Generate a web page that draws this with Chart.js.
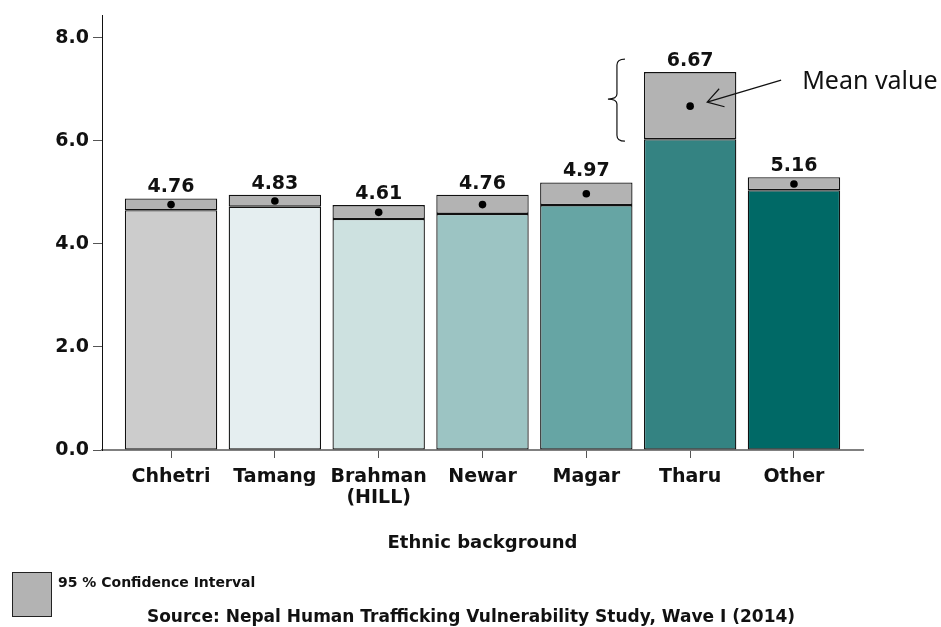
<!DOCTYPE html>
<html lang="en">
<head>
<meta charset="UTF-8">
<title>Ethnic background</title>
<script src="https://cdn.jsdelivr.net/npm/chart.js"></script>
<style>
  body { margin: 0; background: #ffffff; }
  .wrap { width: 941px; height: 627px; position: relative; }
</style>
</head>
<body>
<div class="wrap"><canvas id="chart"></canvas></div>
<script>
const categories = ['Chhetri', 'Tamang', ['Brahman', '(HILL)'], 'Newar', 'Magar', 'Tharu', 'Other'];
const means  = [4.76, 4.83, 4.61, 4.76, 4.97, 6.67, 5.16];
const ciLow  = [4.65, 4.72, 4.48, 4.58, 4.75, 6.03, 5.04];
const ciHigh = [4.88, 4.95, 4.75, 4.95, 5.19, 7.33, 5.29];
const barColors = ['#cccccc', '#e5eef0', '#cde1e0', '#9cc4c3', '#66a5a4', '#348382', '#006966'];
const yTicks = [0, 2, 4, 6, 8];
const ciColor = '#b3b3b3';

Chart.defaults.font.family = '"DejaVu Sans", sans-serif';
Chart.defaults.color = '#111';

// value labels, brace, "Mean value" arrow, legend and source line
const extras = {
    id: 'extras',
    afterDatasetsDraw(chart) {
        const ctx = chart.ctx;
        const ciBars = chart.getDatasetMeta(1).data;
        const dots = chart.getDatasetMeta(2).data;
        ctx.save();
        ctx.fillStyle = '#111';
        ctx.font = 'bold 19px "DejaVu Sans"';
        ctx.textAlign = 'center';
        ctx.textBaseline = 'alphabetic';
        ciBars.forEach((bar, i) => ctx.fillText(means[i].toFixed(2), bar.x, bar.y - 6));

        const t = categories.indexOf('Tharu');
        const bar = ciBars[t], dot = dots[t];
        const left = bar.x - bar.width / 2;
        const top = bar.y - 13, bottom = bar.base + 2, mid = (top + bottom) / 2 - 1;
        const r = left - 19, m = left - 27, tip = left - 36;
        ctx.strokeStyle = '#111';
        ctx.lineWidth = 1.2;
        ctx.beginPath();
        ctx.moveTo(r, top);
        ctx.quadraticCurveTo(m, top, m, top + 6);
        ctx.lineTo(m, mid - 5);
        ctx.quadraticCurveTo(m, mid, tip, mid);
        ctx.quadraticCurveTo(m, mid, m, mid + 5);
        ctx.lineTo(m, bottom - 6);
        ctx.quadraticCurveTo(m, bottom, r, bottom);
        ctx.stroke();

        const ax = dot.x + 17, ay = dot.y - 4;
        const bx = dot.x + 91, by = dot.y - 26;
        const ang = Math.atan2(by - ay, bx - ax);
        ctx.beginPath();
        ctx.moveTo(bx, by);
        ctx.lineTo(ax, ay);
        ctx.moveTo(ax + 18 * Math.cos(ang - 0.55), ay + 18 * Math.sin(ang - 0.55));
        ctx.lineTo(ax, ay);
        ctx.lineTo(ax + 18 * Math.cos(ang + 0.55), ay + 18 * Math.sin(ang + 0.55));
        ctx.stroke();

        ctx.font = '25px "Noto Sans"';
        ctx.textAlign = 'left';
        ctx.fillText('Mean value', dot.x + 112, dot.y - 17);
        ctx.restore();
    },
    afterDraw(chart) {
        const ctx = chart.ctx;
        const xb = chart.scales.x.bottom;
        ctx.save();
        ctx.fillStyle = ciColor;
        ctx.strokeStyle = '#222';
        ctx.lineWidth = 1;
        ctx.fillRect(12, xb + 12, 39, 44);
        ctx.strokeRect(12.5, xb + 12.5, 39, 44);
        ctx.fillStyle = '#111';
        ctx.font = 'bold 14px "DejaVu Sans"';
        ctx.textAlign = 'left';
        ctx.fillText('95 % Confidence Interval', 58, xb + 27);
        ctx.font = 'bold 17px "DejaVu Sans"';
        ctx.textAlign = 'center';
        ctx.fillText('Source: Nepal Human Trafficking Vulnerability Study, Wave I (2014)', 471, xb + 62);
        ctx.restore();
    }
};

new Chart(document.getElementById('chart'), {
    type: 'bar',
    data: {
        datasets: [
            {
                label: 'Lower bound',
                data: ciLow.map((v, i) => ({ x: i, y: [0, v] })),
                backgroundColor: barColors,
                borderColor: '#111',
                borderWidth: 1.3,
                borderSkipped: false,
                grouped: false,
                barPercentage: 0.89,
                categoryPercentage: 1,
                order: 2
            },
            {
                label: '95 % Confidence Interval',
                data: ciLow.map((v, i) => ({ x: i, y: [v, ciHigh[i]] })),
                backgroundColor: ciColor,
                borderColor: '#111',
                borderWidth: 1.3,
                borderSkipped: false,
                grouped: false,
                barPercentage: 0.89,
                categoryPercentage: 1,
                order: 1
            },
            {
                type: 'scatter',
                label: 'Mean value',
                data: means.map((v, i) => ({ x: i, y: v })),
                backgroundColor: '#000',
                pointRadius: 3.8,
                pointBorderWidth: 0,
                order: 0
            }
        ]
    },
    options: {
        responsive: true,
        maintainAspectRatio: false,
        animation: false,
        events: [],
        layout: { padding: { top: 12, right: 78, bottom: 67, left: 0 } },
        plugins: {
            legend: { display: false },
            tooltip: { enabled: false }
        },
        scales: {
            x: {
                type: 'linear',
                offset: false,
                min: -0.665,
                max: 6.665,
                afterBuildTicks: s => { s.ticks = categories.map((c, i) => ({ value: i })); },
                afterFit: s => { s.height = 110; },
                ticks: {
                    callback: v => categories[v],
                    font: { size: 19, weight: 'bold', lineHeight: 1.1 },
                    color: '#111',
                    padding: 9,
                    maxRotation: 0,
                    autoSkip: false
                },
                grid: { offset: false, drawOnChartArea: false, tickLength: 8, color: '#555' },
                border: { color: '#808080', width: 2 },
                title: {
                    display: true,
                    text: 'Ethnic background',
                    font: { size: 18, weight: 'bold' },
                    color: '#111',
                    padding: { top: 0, bottom: 6 }
                }
            },
            y: {
                min: 0,
                max: 8.43,
                afterBuildTicks: s => { s.ticks = yTicks.map(v => ({ value: v })); },
                afterFit: s => { s.width = 102; },
                ticks: {
                    callback: v => v.toFixed(1),
                    font: { size: 19, weight: 'bold' },
                    color: '#111',
                    padding: 4
                },
                grid: { drawOnChartArea: false, tickLength: 9, color: '#555' },
                border: { color: '#111', width: 1 }
            }
        }
    },
    plugins: [extras]
});
</script>
</body>
</html>
